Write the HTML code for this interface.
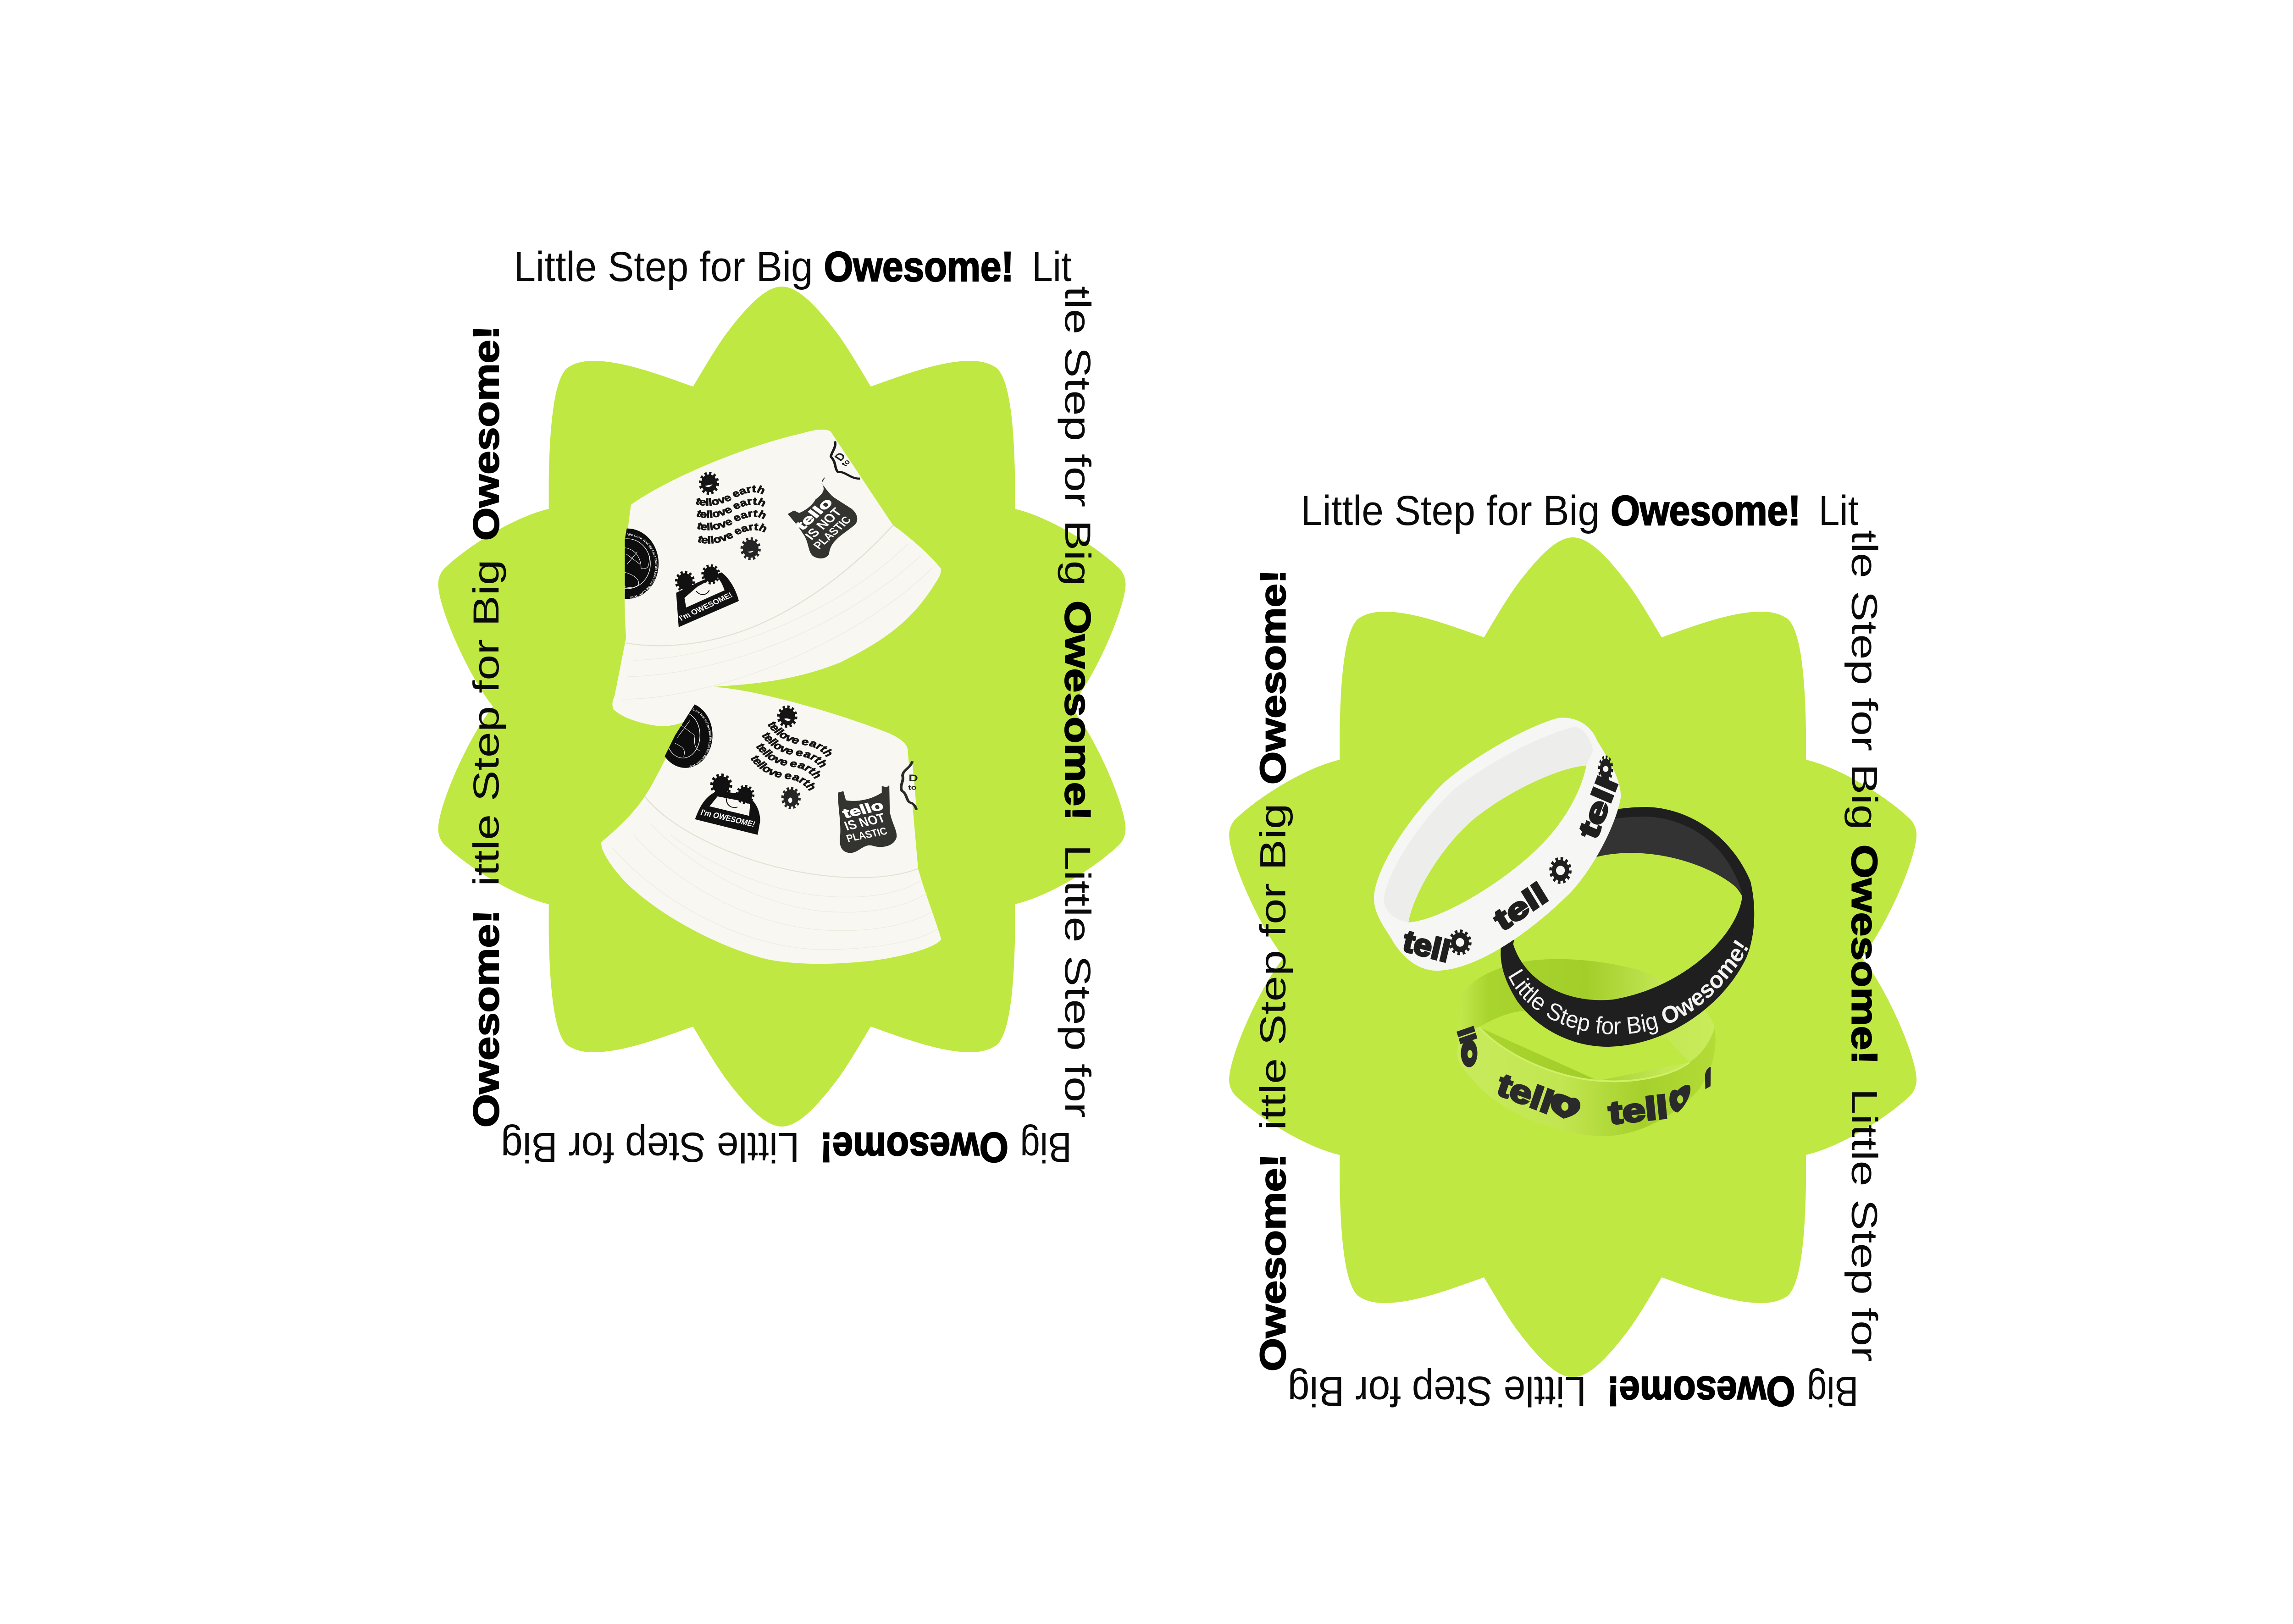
<!DOCTYPE html>
<html><head><meta charset="utf-8"><style>
html,body{margin:0;padding:0;background:#fff;width:100%;height:100%;overflow:hidden}
svg{display:block;width:100vw;height:100vh}
.r{font-family:"Liberation Sans",sans-serif;font-size:92px;fill:#0a0a0a}
.b{font-family:"Liberation Sans",sans-serif;font-size:92px;font-weight:700;fill:#000;stroke:#000;stroke-width:2.5px}
.h{font-family:"Liberation Sans",sans-serif;font-weight:700}
</style></head><body>
<svg viewBox="0 0 5833 3542" preserveAspectRatio="none" xmlns="http://www.w3.org/2000/svg">
<defs>
<g id="gear"><circle cx="100" cy="100" r="34" fill="currentColor"/><circle cx="100" cy="100" r="36" fill="none" stroke="currentColor" stroke-width="16" stroke-dasharray="9.42 9.42"/></g>
<path id="star" fill="#c0e843" d="M1989,625 C2034,625 2084,676 2129,726 C2159,761 2189,806 2215,843 C2289,821 2389,787 2468,787 C2499,787 2519,793 2536,803 C2564,826 2579,901 2582,1044 L2582,1110 C2669,1127 2789,1191 2849,1241 C2864,1256 2864,1274 2863,1279 C2859,1331 2789,1471 2724,1541 C2789,1611 2859,1751 2863,1803 C2864,1808 2864,1826 2849,1841 C2789,1891 2669,1955 2582,1972 L2582,2038 C2579,2181 2564,2256 2536,2279 C2519,2289 2499,2295 2468,2295 C2389,2295 2289,2261 2215,2239 C2189,2276 2159,2321 2129,2356 C2084,2406 2034,2457 1989,2457 C1944,2457 1894,2406 1849,2356 C1819,2321 1789,2276 1763,2239 C1689,2261 1589,2295 1510,2295 C1479,2295 1459,2289 1442,2279 C1414,2256 1399,2181 1396,2038 L1396,1972 C1309,1955 1189,1891 1129,1841 C1114,1826 1114,1808 1115,1803 C1119,1751 1189,1611 1254,1541 C1189,1471 1119,1331 1115,1279 C1114,1274 1114,1256 1129,1241 C1189,1191 1309,1127 1396,1110 L1396,1044 C1399,901 1414,826 1442,803 C1459,793 1479,787 1510,787 C1589,787 1689,821 1763,843 C1789,806 1819,761 1849,726 C1894,676 1944,625 1989,625Z"/>
<clipPath id="c1"><path d="M165,450 C300,330 600,170 850,100 L930,80 L960,90 L1210,550 L1210,900 L140,1100 L140,620Z"/></clipPath>
<clipPath id="c2"><path d="M490,45 C700,70 1000,190 1265,345 L1310,1000 L220,1000 L220,620 L340,300 L450,70Z"/></clipPath>
<linearGradient id="gr" x1="0" y1="0" x2="1" y2="0"><stop offset="0" stop-color="#c8eb5c"/><stop offset=".4" stop-color="#c2e651"/><stop offset=".72" stop-color="#a6d02b"/><stop offset="1" stop-color="#b4dc38"/></linearGradient>
<linearGradient id="gi" x1="0" y1="0" x2="1" y2="0"><stop offset="0" stop-color="#c4e94f"/><stop offset=".12" stop-color="#a9d42e"/><stop offset=".5" stop-color="#a3ce2a"/><stop offset=".8" stop-color="#c3e755"/><stop offset="1" stop-color="#c8ec5a"/></linearGradient>
<path id="w11" d="M420,445 C480,470 550,440 590,410 C630,385 680,375 705,418"/>
<path id="w12" d="M423,505 C480,530 550,500 590,470 C630,445 680,435 708,478"/>
<path id="w13" d="M425,565 C480,590 550,560 590,530 C630,505 680,495 710,538"/>
<path id="w14" d="M428,630 C485,655 555,625 593,595 C633,570 683,560 712,603"/>
<path id="w21" d="M708,240 C750,320 810,345 860,350 C910,360 950,395 960,470"/>
<path id="w22" d="M685,297 C727,377 787,402 837,407 C887,417 927,452 937,527"/>
<path id="w23" d="M662,355 C704,435 764,460 814,465 C864,475 904,510 914,585"/>
<path id="w24" d="M640,418 C682,498 742,523 792,528 C842,538 882,573 892,648"/>
<path id="bt" d="M535,920 C600,1060 800,1150 1020,1115 C1200,1085 1350,950 1445,760"/>
<path id="ring1" d="M150,600 A112,150 0 1 1 149,600"/>
<path id="ring2" d="M385,160 A92,150 0 1 1 384,160"/>
</defs>
<rect width="5833" height="3542" fill="#fff"/>

<use href="#star"/>
<use href="#star" transform="translate(2012,547)"/>

<!-- hat 1 -->
<g transform="translate(1500,900) scale(.6378,.4464)">
<path fill="#f8f7f1" d="M165,450 C300,330 600,170 850,100 C890,85 930,75 960,90 L1210,550 C1290,620 1360,700 1400,760 C1405,790 1390,810 1370,850 C1290,1000 1200,1100 1000,1220 C800,1320 600,1330 490,1340 L490,1420 C430,1500 340,1535 280,1532 C200,1520 130,1490 95,1450 C85,1420 95,1400 100,1380 L145,1100 C135,900 135,700 165,450Z"/>
<path fill="none" stroke="#e4e1d2" stroke-width="5" d="M145,1125 C250,1150 400,1140 520,1100 C750,1030 1000,830 1210,550"/>
<path fill="none" stroke="#eeebdf" stroke-width="3" d="M130,1400 C500,1400 1060,1130 1365,760 M150,1290 C520,1280 1000,1060 1320,700 M175,1210 C520,1200 980,990 1270,640"/>
<g clip-path="url(#c1)">
<ellipse cx="150" cy="738" rx="125" ry="172" fill="#0d0d0d"/>
<ellipse cx="150" cy="738" rx="92" ry="122" fill="none" stroke="#fff" stroke-width="2.5"/>
<text class="h" font-size="15" fill="#fff"><textPath href="#ring1">We Love You! We Love You! We Love You! We Love You!</textPath></text>
<path fill="none" stroke="#fff" stroke-width="2" d="M140,660 C190,670 205,720 205,760 C240,770 235,740 240,700 M140,780 C170,790 200,810 195,840 C180,860 150,855 140,850 M145,690 L200,740 M150,740 L190,680"/>
</g>
<use href="#gear" color="#151515" transform="translate(476,345) scale(.92,1.28) translate(-100,-100)"/>
<use href="#gear" color="#262626" transform="translate(642,665) scale(.92,1.28) translate(-100,-100)"/>
<path d="M460,358 Q476,372 490,350 Z" fill="#fff"/><path d="M630,680 Q642,690 655,675Z" fill="#fff"/>
<path fill="#111" d="M345,880 L355,1048 L595,920 C585,870 560,810 525,780 L430,830Z"/>
<path fill="#f8f7f1" d="M378,905 L385,952 L538,868 C530,840 520,815 505,800 L430,850Z"/>
<path fill="none" stroke="#111" stroke-width="4" d="M425,872 C440,895 465,895 477,868"/>
<use href="#gear" color="#111" transform="translate(380,825) scale(.9,1.2) translate(-100,-100)"/>
<use href="#gear" color="#111" transform="translate(483,790) scale(.86,1.12) translate(-100,-100)"/>
<text class="h" font-size="36" fill="#fff" x="365" y="1018" transform="rotate(-30 365 1018)" textLength="240" lengthAdjust="spacingAndGlyphs">I'm OWESOME!</text>
<g class="h" font-size="49" fill="#151515" stroke="#151515" stroke-width="2.5">
<text><textPath href="#w11">tellove earth</textPath></text>
<text><textPath href="#w12">tellove earth</textPath></text>
<text><textPath href="#w13">tellove earth</textPath></text>
<text><textPath href="#w14">tellove earth</textPath></text>
</g>
<path fill="#333330" d="M940,315 C925,325 920,345 935,360 C950,385 960,400 975,415 L1045,470 C1065,490 1075,520 1060,545 C1020,590 960,620 955,690 C945,715 915,720 890,700 C870,680 875,630 850,590 C830,550 810,525 790,495 L815,478 L835,490 C860,480 890,450 900,425 C925,400 945,380 925,345Z"/>
<g class="h" fill="#fff">
<text font-size="62" x="848" y="578" transform="rotate(-48 848 578)" textLength="185" lengthAdjust="spacingAndGlyphs" stroke="#fff" stroke-width="3">tello</text>
<text font-size="58" x="885" y="625" transform="rotate(-48 885 625)" textLength="185" lengthAdjust="spacingAndGlyphs">IS NOT</text>
<text font-size="50" x="915" y="670" transform="rotate(-48 915 670)" textLength="195" lengthAdjust="spacingAndGlyphs">PLASTIC</text>
</g>
<path fill="#f8f7f1" stroke="#1a1a1a" stroke-width="10" d="M978,140 C985,170 965,190 962,215 C985,245 975,270 990,290 C1020,285 1040,325 1078,322"/>
<g class="h" fill="#1a1a1a"><text font-size="50" x="1000" y="240" transform="rotate(-50 1000 240)">D</text><text font-size="34" x="1020" y="265" transform="rotate(-50 1020 265)">to</text></g>
</g>

<!-- hat 2 -->
<g transform="translate(1500,1480) scale(.6378,.4146)">
<path fill="#f8f7f1" d="M490,45 C600,45 900,140 1180,280 C1230,305 1265,340 1268,370 L1310,1000 C1340,1140 1380,1270 1402,1370 C1395,1400 1300,1450 1150,1480 C1000,1505 850,1510 720,1480 C550,1430 300,1270 150,1080 C90,1000 40,900 47,860 C100,800 170,720 220,620 C280,500 340,300 450,70 C460,55 475,45 490,45Z"/>
<path fill="none" stroke="#e4e1d2" stroke-width="5" d="M220,620 C300,760 500,900 700,975 C900,1050 1150,1080 1310,1000"/>
<path fill="none" stroke="#eeebdf" stroke-width="3" d="M90,890 C250,1130 560,1400 900,1425 C1100,1430 1300,1390 1385,1320 M180,830 C330,1050 600,1280 900,1320 C1080,1340 1250,1310 1360,1230 M240,760 C400,980 640,1170 900,1220 C1080,1245 1230,1220 1345,1130 M320,820 C480,980 680,1100 900,1140 C1080,1165 1230,1140 1325,1060"/>
<g clip-path="url(#c2)">
<ellipse cx="382" cy="298" rx="108" ry="172" fill="#0d0d0d"/>
<ellipse cx="372" cy="298" rx="68" ry="120" fill="none" stroke="#fff" stroke-width="2.5"/>
<text class="h" font-size="14" fill="#fff"><textPath href="#ring2">We Love You! We Love You! We Love You! We Love You!</textPath></text>
<path fill="none" stroke="#fff" stroke-width="2" d="M340,340 C370,360 385,370 375,410 M420,300 C415,340 420,370 440,380 M360,240 L420,300 M400,220 L350,310"/>
</g>
<use href="#gear" color="#151515" transform="translate(788,200) scale(.92,1.34) translate(-100,-100)"/>
<use href="#gear" color="#262626" transform="translate(803,628) scale(.88,1.34) translate(-100,-100)"/>
<path d="M775,212 Q790,205 803,218 L790,225Z" fill="#fff"/><ellipse cx="800" cy="640" rx="8" ry="14" fill="#fff"/>
<path fill="#111" d="M420,740 L670,822 L680,750 C680,690 660,640 620,610 L510,590 C460,620 440,670 420,740Z"/>
<path fill="#f8f7f1" d="M478,672 L636,722 L640,660 L590,640 L510,620Z"/>
<path fill="none" stroke="#111" stroke-width="4" d="M545,630 C545,675 575,685 590,675"/>
<use href="#gear" color="#111" transform="translate(525,560) scale(1,1.38) translate(-100,-100)"/>
<use href="#gear" color="#111" transform="translate(620,610) scale(.85,1.15) translate(-100,-100)"/>
<text class="h" font-size="42" fill="#fff" x="440" y="715" transform="rotate(17 440 715)" textLength="225" lengthAdjust="spacingAndGlyphs">I'm OWESOME!</text>
<g class="h" font-size="52" fill="#151515" stroke="#151515" stroke-width="2.5">
<text><textPath href="#w21">tellove earth</textPath></text>
<text><textPath href="#w22">tellove earth</textPath></text>
<text><textPath href="#w23">tellove earth</textPath></text>
<text><textPath href="#w24">tellove earth</textPath></text>
</g>
<path fill="#333330" d="M990,600 L1012,592 L1022,640 C1060,650 1120,640 1165,600 L1165,565 L1185,572 L1195,560 L1197,700 C1205,760 1228,800 1224,835 C1215,880 1170,895 1130,880 C1095,865 1075,915 1040,918 C1010,915 995,890 998,840 C1005,770 990,680 990,600Z"/>
<g class="h" fill="#fff">
<text font-size="70" x="1018" y="735" transform="rotate(-17 1018 735)" textLength="165" lengthAdjust="spacingAndGlyphs" stroke="#fff" stroke-width="3">tello</text>
<text font-size="68" x="1025" y="800" transform="rotate(-17 1025 800)" textLength="165" lengthAdjust="spacingAndGlyphs">IS NOT</text>
<text font-size="54" x="1030" y="860" transform="rotate(-15 1030 860)" textLength="165" lengthAdjust="spacingAndGlyphs">PLASTIC</text>
</g>
<path fill="#f8f7f1" stroke="#2a2a2a" stroke-width="11" d="M1287,435 C1280,470 1250,480 1248,510 C1255,540 1235,560 1245,590 C1270,610 1260,650 1285,655 C1300,670 1300,680 1304,690"/>
<g class="h" fill="#222"><text font-size="52" x="1272" y="540">D</text><text font-size="36" x="1270" y="585">to</text></g>
</g>

<!-- bracelets -->
<g transform="translate(3460,1540) scale(.7018,.6378)">
<path fill-rule="evenodd" fill="url(#gi)" d="M365,1010 C375,950 450,910 560,880 C700,850 880,870 1000,900 C1150,950 1260,1020 1285,1100 C1295,1170 1280,1250 1220,1320 L420,1290 C370,1240 345,1190 355,1120 Z M431,1098 C480,1070 530,1050 584,1043 L800,1060 L1112,1137 L1194,1218 L863,1281Z"/>
<path fill="url(#gr)" d="M352,1181 C355,1130 395,1105 431,1098 C520,1190 700,1270 863,1281 C980,1290 1120,1270 1194,1218 C1230,1195 1265,1160 1285,1100 C1295,1170 1280,1250 1220,1320 C1130,1410 1000,1470 880,1471 C700,1465 500,1380 420,1290 C380,1250 348,1220 352,1181Z"/>
<path fill="none" stroke="#cff068" stroke-width="6" d="M431,1098 C520,1190 700,1270 863,1281 C980,1290 1120,1270 1194,1218"/>
<path fill="#2a2a2a" d="M737,1411 C710,1395 690,1385 691,1359 C690,1335 705,1325 717,1325 C735,1325 755,1335 765,1340 C790,1335 800,1355 798,1369 C795,1395 760,1405 737,1411Z"/>
<ellipse cx="742" cy="1369" rx="13" ry="15" fill="#bfe44a"/>
<path fill="#2a2a2a" d="M1150,1390 C1125,1385 1118,1355 1122,1333 C1125,1312 1140,1308 1150,1315 C1165,1300 1185,1290 1195,1298 C1205,1320 1180,1370 1150,1390Z"/>
<ellipse cx="1160" cy="1345" rx="11" ry="14" fill="#b0d838"/>
<ellipse cx="395" cy="1187" rx="30" ry="48" fill="#2a2a2a"/><ellipse cx="398" cy="1190" rx="9" ry="14" fill="#c4e854"/>
<path fill="#2a2a2a" d="M1251,1310 L1250,1260 C1255,1240 1265,1234 1271,1234 L1270,1300Z"/>
<path fill-rule="evenodd" fill="#1f1f1f" d="M510,830 C515,700 600,480 760,400 C850,360 950,345 1040,345 C1200,350 1350,450 1415,600 C1435,680 1435,780 1400,860 C1320,1020 1120,1160 900,1165 C760,1165 640,1100 570,1010 C530,950 505,890 510,830Z M555,815 C580,650 720,560 860,515 C1050,470 1300,510 1385,650 C1370,780 1180,960 920,1003 C760,1020 600,950 555,815Z"/>
<path fill="#333" d="M600,530 C680,440 860,375 1040,378 C1190,385 1330,470 1385,640 C1300,550 1060,470 860,515 C760,545 640,620 560,720Z"/>
<text class="h" style="font-weight:400" font-size="82" fill="#f2f2f2"><textPath href="#bt">Little Step for Big <tspan font-weight="700">Owesome!</tspan></textPath></text>
<path fill-rule="evenodd" fill="#f6f6f4" d="M50,650 C60,540 190,370 300,265 C400,180 600,70 720,40 C790,35 840,70 860,120 C900,180 945,250 945,310 C930,400 850,550 760,640 C620,770 430,900 280,905 C210,905 150,860 110,790 C75,740 48,700 50,650Z M175,740 C190,650 290,480 420,380 C540,290 720,210 820,203 C800,300 730,410 640,490 C520,600 300,730 175,740Z"/>
<path fill="#edeeec" d="M85,660 C100,560 220,390 340,285 C470,190 650,100 780,70 C820,80 835,120 845,150 L820,203 C720,210 540,290 420,380 C290,480 190,650 175,740 C130,730 90,710 85,660Z"/>
<g class="h" fill="#1f1f1f" stroke="#1f1f1f" stroke-width="7" font-size="104">
<text x="150" y="835" transform="rotate(14 150 835)" textLength="170" lengthAdjust="spacingAndGlyphs">tell</text>
<text x="515" y="772" transform="rotate(-33 515 772)" textLength="205" lengthAdjust="spacingAndGlyphs">tell</text>
<text x="855" y="460" transform="rotate(-68 855 460)" textLength="215" lengthAdjust="spacingAndGlyphs">tell</text>
</g>
<g class="h" fill="#2a2a2a" stroke="#2a2a2a" stroke-width="7" font-size="110">
<text x="490" y="1325" transform="rotate(20 490 1325)" textLength="205" lengthAdjust="spacingAndGlyphs">tell</text>
<text x="905" y="1430" transform="rotate(-6 905 1430)" textLength="215" lengthAdjust="spacingAndGlyphs">tell</text>
<text x="352" y="1110" transform="rotate(72 352 1110)" font-size="80" textLength="50" lengthAdjust="spacingAndGlyphs">ll</text>
</g>
<use href="#gear" color="#1f1f1f" transform="translate(362,808) scale(.95,1) translate(-100,-100)"/><circle cx="362" cy="808" r="15" fill="#f6f6f4"/>
<use href="#gear" color="#1f1f1f" transform="translate(726,562) scale(.92,1.05) translate(-100,-100)"/><circle cx="726" cy="562" r="16" fill="#f6f6f4"/>
<use href="#gear" color="#1f1f1f" transform="translate(890,215) scale(.62,1.05) translate(-100,-100)"/><circle cx="890" cy="215" r="10" fill="#f6f6f4"/>
</g>

<!-- text ring 1 -->
<g>
<text class="r" x="1307" y="613" textLength="761" lengthAdjust="spacingAndGlyphs">Little Step for Big</text>
<text class="b" x="2096" y="613" textLength="483" lengthAdjust="spacingAndGlyphs">Owesome!</text>
<text class="r" x="2625" y="613" textLength="101" lengthAdjust="spacingAndGlyphs">Lit</text>
<text class="r" x="2710" y="624" transform="rotate(90 2710 624)" textLength="654" lengthAdjust="spacingAndGlyphs">tle Step for Big</text>
<text class="b" x="2710" y="1310" transform="rotate(90 2710 1310)" textLength="480" lengthAdjust="spacingAndGlyphs">Owesome!</text>
<text class="r" x="2710" y="1842" transform="rotate(90 2710 1842)" textLength="596" lengthAdjust="spacingAndGlyphs">Little Step for</text>
<text class="b" x="1268" y="2459" transform="rotate(-90 1268 2459)" textLength="475" lengthAdjust="spacingAndGlyphs">Owesome!</text>
<text class="r" x="1268" y="1933" transform="rotate(-90 1268 1933)" textLength="713" lengthAdjust="spacingAndGlyphs">ittle Step for Big</text>
<text class="b" x="1268" y="1179" transform="rotate(-90 1268 1179)" textLength="469" lengthAdjust="spacingAndGlyphs">Owesome!</text>
<text class="r" x="2726" y="2471" transform="rotate(180 2726 2471)" textLength="131" lengthAdjust="spacingAndGlyphs">Big</text>
<text class="b" x="2565" y="2471" transform="rotate(180 2565 2471)" textLength="479" lengthAdjust="spacingAndGlyphs">Owesome!</text>
<text class="r" x="2034" y="2471" transform="rotate(180 2034 2471)" textLength="760" lengthAdjust="spacingAndGlyphs">Little Step for Big</text>
</g>
<!-- text ring 2 -->
<g transform="translate(2001.5,532)">
<text class="r" x="1307" y="613" textLength="761" lengthAdjust="spacingAndGlyphs">Little Step for Big</text>
<text class="b" x="2096" y="613" textLength="483" lengthAdjust="spacingAndGlyphs">Owesome!</text>
<text class="r" x="2625" y="613" textLength="101" lengthAdjust="spacingAndGlyphs">Lit</text>
<text class="r" x="2710" y="624" transform="rotate(90 2710 624)" textLength="654" lengthAdjust="spacingAndGlyphs">tle Step for Big</text>
<text class="b" x="2710" y="1310" transform="rotate(90 2710 1310)" textLength="480" lengthAdjust="spacingAndGlyphs">Owesome!</text>
<text class="r" x="2710" y="1842" transform="rotate(90 2710 1842)" textLength="596" lengthAdjust="spacingAndGlyphs">Little Step for</text>
<text class="b" x="1268" y="2459" transform="rotate(-90 1268 2459)" textLength="475" lengthAdjust="spacingAndGlyphs">Owesome!</text>
<text class="r" x="1268" y="1933" transform="rotate(-90 1268 1933)" textLength="713" lengthAdjust="spacingAndGlyphs">ittle Step for Big</text>
<text class="b" x="1268" y="1179" transform="rotate(-90 1268 1179)" textLength="469" lengthAdjust="spacingAndGlyphs">Owesome!</text>
<text class="r" x="2726" y="2471" transform="rotate(180 2726 2471)" textLength="131" lengthAdjust="spacingAndGlyphs">Big</text>
<text class="b" x="2565" y="2471" transform="rotate(180 2565 2471)" textLength="479" lengthAdjust="spacingAndGlyphs">Owesome!</text>
<text class="r" x="2034" y="2471" transform="rotate(180 2034 2471)" textLength="760" lengthAdjust="spacingAndGlyphs">Little Step for Big</text>
</g>
</svg>
</body></html>
